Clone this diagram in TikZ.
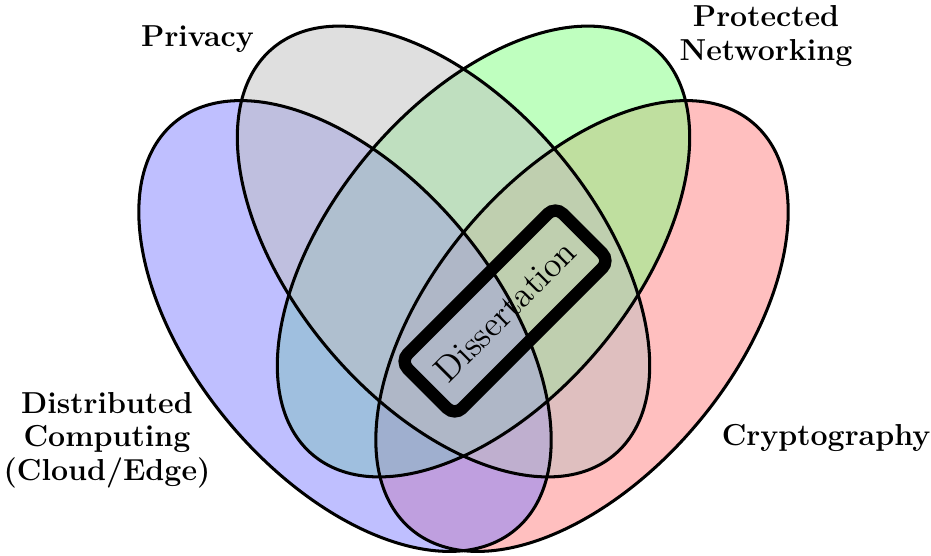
\documentclass[tikz,border=0pt]{standalone}
\usepackage{graphicx}
\begin{document}
\begin{tikzpicture}[x=0.4287pt,y=0.4287pt,
  setshape/.style={x radius=265.5, y radius=151},
  outline/.style={draw=black, line width=1.3pt},
  setlabel/.style={font=\fontsize{13}{14.4}\selectfont\bfseries, align=center, inner sep=0pt},
  topicbox/.style={draw=black, line width=5.3pt, rounded corners=4.5pt, rotate=45,
    minimum width=94pt, minimum height=33pt, font=\Large, inner sep=0pt}]
\useasboundingbox (0,0) rectangle (931,555);

% the four sets
\def\cryptoset{(582,229) ellipse [setshape, rotate=50]}
\def\netset{(483.5,303.5) ellipse [setshape, rotate=50]}
\def\distset{(345,229) ellipse [setshape, rotate=-50]}
\def\privset{(443.5,303.5) ellipse [setshape, rotate=-50]}

% translucent fills first, outlines on top
\begin{scope}[fill opacity=0.5]
  \fill[red!50]   \cryptoset;
  \fill[green!50] \netset;
  \fill[blue!50]  \distset;
  \fill[gray!50]  \privset;
\end{scope}
\draw[outline] \cryptoset;
\draw[outline] \netset;
\draw[outline] \distset;
\draw[outline] \privset;

% set names (base = baseline of the last line)
\node[setlabel, anchor=base] (privacy) at (197.5,508.3) {Privacy};
\node[setlabel, anchor=base] (networking) at (766,494.5) {Protected\\Networking};
\node[setlabel, anchor=base] (distributed) at (107,74.5) {Distributed\\Computing\\(Cloud/Edge)};
\node[setlabel, anchor=base] (crypto) at (826,110) {Cryptography};

% the common core
\node[topicbox] (dissertation) at (505,244) {\scalebox{1.06}{Dissertation}};
\end{tikzpicture}
\end{document}
